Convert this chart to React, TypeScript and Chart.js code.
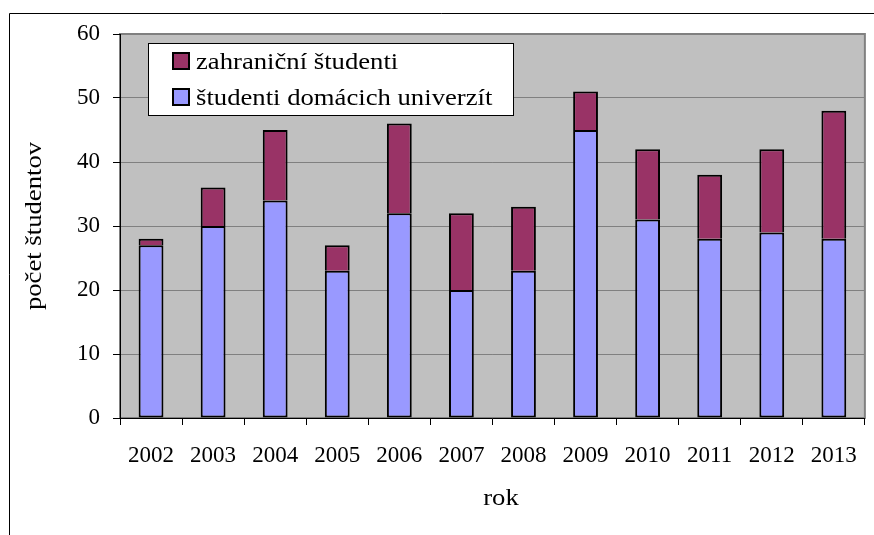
import React, { useEffect, useRef } from "react";
import { Chart, registerables } from "chart.js";

Chart.register(...registerables);

const years = ["2002", "2003", "2004", "2005", "2006", "2007", "2008", "2009", "2010", "2011", "2012", "2013"];
const domestic = [27, 30, 34, 23, 32, 20, 23, 45, 31, 28, 29, 28];
const foreign = [1, 6, 11, 4, 14, 12, 10, 6, 11, 10, 13, 20];
const yTicks = [0, 10, 20, 30, 40, 50, 60];
const xTitle = "rok";
const yTitle = "počet študentov";

const FONT = '"Liberation Serif", "Times New Roman", Times, serif';
const STRETCH = 1.16;

function drawStretched(
  ctx: CanvasRenderingContext2D,
  text: string,
  x: number,
  y: number,
  rot: number,
  align: CanvasTextAlign,
  baseline: CanvasTextBaseline
) {
  ctx.save();
  ctx.translate(x, y);
  ctx.rotate(rot);
  ctx.scale(STRETCH, 1);
  ctx.font = `23px ${FONT}`;
  ctx.fillStyle = "#000000";
  ctx.textAlign = align;
  ctx.textBaseline = baseline;
  ctx.fillText(text, 0, 0);
  ctx.restore();
}

const bgPlugin = {
  id: "bgPlugin",
  beforeDraw(chart: any) {
    const { ctx, chartArea } = chart;
    ctx.save();
    ctx.fillStyle = "#ffffff";
    ctx.fillRect(0, 0, chart.width, chart.height);
    ctx.strokeStyle = "#000000";
    ctx.lineWidth = 1;
    ctx.beginPath();
    ctx.moveTo(9.5, chart.height);
    ctx.lineTo(9.5, 13.5);
    ctx.lineTo(chart.width, 13.5);
    ctx.stroke();
    ctx.fillStyle = "#C0C0C0";
    ctx.fillRect(chartArea.left, chartArea.top, chartArea.right - chartArea.left, chartArea.bottom - chartArea.top);
    ctx.strokeStyle = "#808080";
    ctx.lineWidth = 2;
    ctx.strokeRect(chartArea.left, chartArea.top, chartArea.right - chartArea.left, chartArea.bottom - chartArea.top);
    ctx.restore();
  },
};

const textPlugin = {
  id: "textPlugin",
  afterDraw(chart: any) {
    const { ctx, chartArea } = chart;
    const items = [
      { label: chart.data.datasets[1].label, color: chart.data.datasets[1].backgroundColor },
      { label: chart.data.datasets[0].label, color: chart.data.datasets[0].backgroundColor },
    ];
    ctx.save();
    ctx.fillStyle = "#ffffff";
    ctx.fillRect(148, 43, 365, 72);
    ctx.strokeStyle = "#000000";
    ctx.lineWidth = 1;
    ctx.strokeRect(148.5, 43.5, 365, 72);
    items.forEach((it, i) => {
      const rowY = 53 + i * 36;
      ctx.fillStyle = it.color;
      ctx.fillRect(173, rowY, 16, 16);
      ctx.lineWidth = 2;
      ctx.strokeStyle = "#000000";
      ctx.strokeRect(173, rowY, 16, 16);
      drawStretched(ctx, it.label, 196, rowY + 16, 0, "left", "alphabetic");
    });
    const midY = (chartArea.top + chartArea.bottom) / 2;
    drawStretched(ctx, yTitle, 35, midY, -Math.PI / 2, "center", "middle");
    drawStretched(ctx, xTitle, 501, 505, 0, "center", "alphabetic");
    ctx.restore();
  },
};

export default function App() {
  const ref = useRef<HTMLCanvasElement | null>(null);

  useEffect(() => {
    let chart: any = null;
    let cancelled = false;
    const make = () => {
      if (cancelled || !ref.current) return;
      chart = new Chart(ref.current, {
        type: "bar",
        data: {
          labels: years,
          datasets: [
            {
              label: "študenti domácich univerzít",
              data: domestic,
              backgroundColor: "#9999FF",
              borderColor: "#000000",
              borderWidth: 2,
              borderSkipped: false,
              barPercentage: 0.4,
              categoryPercentage: 1,
            },
            {
              label: "zahraniční študenti",
              data: foreign,
              backgroundColor: "#993366",
              borderColor: "#000000",
              borderWidth: 2,
              borderSkipped: "start",
              barPercentage: 0.4,
              categoryPercentage: 1,
            },
          ],
        },
        options: {
          animation: false,
          responsive: false,
          maintainAspectRatio: false,
          layout: { padding: { top: 34, right: 4, left: 0, bottom: 0 } },
          plugins: {
            legend: { display: false },
            tooltip: { enabled: false },
          },
          scales: {
            x: {
              stacked: true,
              afterFit: (s: any) => {
                s.height = 117;
              },
              grid: {
                display: true,
                drawOnChartArea: false,
                drawTicks: true,
                tickLength: 7,
                tickColor: "#000000",
                offset: true,
              },
              border: { display: true, color: "#000000", width: 1 },
              ticks: {
                color: "#000000",
                font: { family: FONT, size: 23 },
                padding: 17,
                maxRotation: 0,
              },
              title: { display: false, text: xTitle },
            },
            y: {
              stacked: true,
              min: 0,
              max: 60,
              afterFit: (s: any) => {
                s.width = 120;
              },
              afterBuildTicks: (s: any) => {
                s.ticks = yTicks.map((v) => ({ value: v }));
              },
              grid: {
                color: "#808080",
                lineWidth: 1,
                tickColor: "#000000",
                tickLength: 7,
              },
              border: { display: true, color: "#000000", width: 1 },
              ticks: {
                color: "#000000",
                font: { family: FONT, size: 23 },
                padding: 13,
              },
              title: { display: false, text: yTitle },
            },
          },
        },
        plugins: [bgPlugin, textPlugin],
      });
    };
    const fontsApi: any = (document as any).fonts;
    if (fontsApi && fontsApi.load) {
      fontsApi
        .load('23px "Liberation Serif"', "počet študentov 2002")
        .catch(() => null)
        .then(() => make());
    } else {
      make();
    }
    return () => {
      cancelled = true;
      if (chart) chart.destroy();
    };
  }, []);

  return (
    <div style={{ position: "fixed", left: 0, top: 0, width: 874, height: 535, background: "#fff" }}>
      <canvas ref={ref} width={874} height={535} style={{ display: "block", width: 874, height: 535 }} />
    </div>
  );
}
